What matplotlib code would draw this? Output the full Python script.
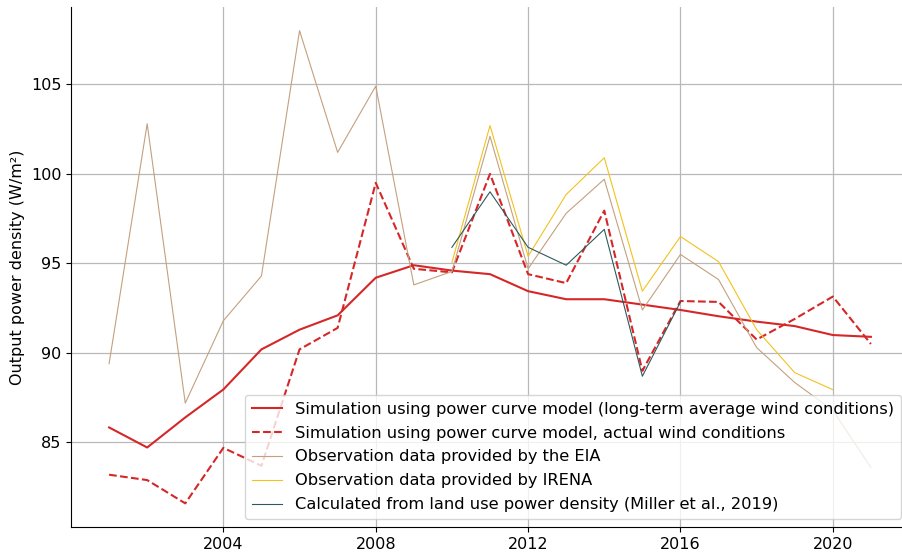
import matplotlib
matplotlib.use("Agg")
import matplotlib.pyplot as plt

years = list(range(2001, 2022))
sim_longterm = [85.84, 84.72, 86.4, 87.96, 90.2, 91.3, 92.1, 94.2, 94.9, 94.6, 94.4,
                93.45, 93.0, 93.0, 92.7, 92.4, 92.05, 91.75, 91.5, 91.0, 90.9]
sim_actual = [83.2, 82.9, 81.6, 84.7, 83.7, 90.2, 91.4, 99.5, 94.7, 94.5, 100.0,
              94.4, 93.9, 97.95, 89.0, 92.9, 92.85, 90.75, 91.9, 93.15, 90.5]
eia = [89.4, 102.8, 87.2, 91.8, 94.3, 108.0, 101.2, 104.9, 93.8, 94.55, 102.1,
       94.7, 97.8, 99.7, 92.4, 95.5, 94.1, 90.3, 88.35, 86.8, 83.6]
irena_years = list(range(2010, 2021))
irena = [95.05, 102.7, 95.4, 98.85, 100.9, 93.45, 96.5, 95.1, 91.3, 88.9, 87.95]
miller_years = list(range(2010, 2017))
miller = [95.9, 99.0, 95.9, 94.9, 96.9, 88.7, 92.85]

fig = plt.figure(figsize=(9.02, 5.56), dpi=100)
# axes run slightly past the right edge of the figure, as in the original
ax = fig.add_axes([71/902, 29/556, 838/902, 520/556])

ax.plot(years, sim_longterm, color="#d62728", lw=1.5,
        label="Simulation using power curve model (long-term average wind conditions)")
ax.plot(years, sim_actual, color="#d62728", lw=1.5, ls="--",
        label="Simulation using power curve model, actual wind conditions")
ax.plot(years, eia, color="#c4a07e", lw=0.8, label="Observation data provided by the EIA")
ax.plot(irena_years, irena, color="#f2c21e", lw=0.8, label="Observation data provided by IRENA")
ax.plot(miller_years, miller, color="#2e5a5e", lw=0.8,
        label="Calculated from land use power density (Miller et al., 2019)")

ax.set_xlim(2000, 2022)
ax.set_ylim(80.28, 109.32)
ax.set_xticks([2004, 2008, 2012, 2016, 2020])
ax.set_yticks([85, 90, 95, 100, 105])
ax.tick_params(labelsize=11.5)
ax.set_ylabel("Output power density (W/m²)", fontsize=11.5)
ax.grid(True, color="#b8b8b8", lw=0.9)
ax.spines["top"].set_visible(False)
ax.spines["right"].set_visible(False)
ax.legend(loc="lower right", fontsize=11.7, labelspacing=0.55, handlelength=1.9)

fig.savefig("out.png", dpi=100)
